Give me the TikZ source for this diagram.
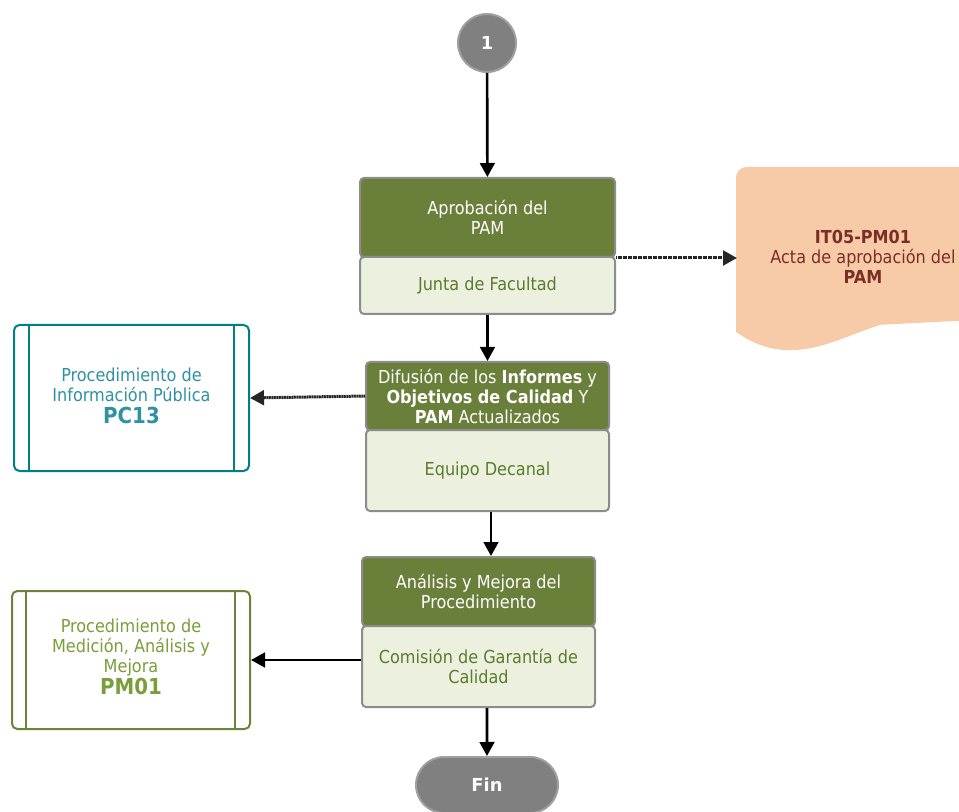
\documentclass[tikz,border=0pt]{standalone}
\usepackage{fontspec}
\setmainfont{DejaVu Sans Condensed}
\newfontfamily\widefont{DejaVu Sans}
\usetikzlibrary{arrows.meta, positioning, shapes.misc}
\definecolor{boxdark}{RGB}{106,127,58}
\definecolor{boxlight}{RGB}{235,240,223}
\definecolor{boxline}{RGB}{140,140,140}
\definecolor{boxtext}{RGB}{94,122,44}
\definecolor{docfill}{RGB}{248,203,168}
\definecolor{doctext}{RGB}{122,46,36}
\definecolor{pcline}{RGB}{0,128,128}
\definecolor{pctext}{RGB}{46,146,164}
\definecolor{pmline}{RGB}{107,132,58}
\definecolor{pmtext}{RGB}{122,158,58}
\definecolor{termfill}{RGB}{128,128,128}
\definecolor{termline}{RGB}{160,160,160}
\newcommand{\proccode}[1]{{\fontsize{16.5}{19}\selectfont\bfseries #1}}

\begin{document}
\begin{tikzpicture}[x=0.75pt, y=-0.75pt,
		every node/.style={font=\fontsize{13.4}{15}\selectfont, align=center, inner sep=0pt},
		actdark/.style={draw=boxline, line width=1.5pt, fill=boxdark, text=white, rounded corners=3pt},
		actlight/.style={draw=boxline, line width=1.5pt, fill=boxlight, text=boxtext, rounded corners=3pt},
		procbox/.style={line width=1.5pt, fill=white, rounded corners=4pt},
		terminal/.style={draw=termline, line width=1.5pt, fill=termfill, text=white, font=\fontsize{13.4}{15}\selectfont\widefont\bfseries},
		flow/.style={draw, line width=2pt, -{Triangle[length=10.5pt, width=11pt]}},
		docflow/.style={draw=black!85, line width=2.25pt, dash pattern=on 0.9pt off 0.35pt, -{Triangle[length=10.5pt, width=11pt]}}]
		\useasboundingbox (0,0) rectangle (959,812);
		\node[terminal, circle, minimum size=43.5pt] (c1) at (487,43) {1};
		\node[actdark, minimum width=191.25pt, minimum height=59.25pt] (a1top) at (487.5,217.5) {Aprobación del\\PAM};
		\node[actlight, minimum width=191.25pt, minimum height=42.75pt] (a1bot) at (487.5,285.5) {Junta de Facultad};
		\node[actdark, minimum width=182.25pt, minimum height=51pt] (a2top) at (487.5,396) {Difusión de los \textbf{Informes} y\\\textbf{Objetivos de Calidad} Y\\\textbf{PAM} Actualizados};
		\node[actlight, minimum width=182.25pt, minimum height=60.75pt] (a2bot) at (487.5,470.5) {Equipo Decanal};
		\node[actdark, minimum width=174.75pt, minimum height=51.75pt] (a3top) at (478.5,591.5) {Análisis y Mejora del\\Procedimiento};
		\node[actlight, minimum width=174.75pt, minimum height=60.75pt] (a3bot) at (478.5,666.5) {Comisión de Garantía de\\Calidad};
		\node[terminal, rounded rectangle, minimum width=106.5pt, minimum height=42pt] (fin) at (487,785) {Fin};
		\fill[docfill, rounded corners=8pt] (736,332) -- (736,167) -- (985,167) -- (985,320) -- (975,320);
		\fill[docfill] (736,320) -- (736,332) .. controls (755,345) and (772,351) .. (795,350) .. controls (835,348) and (870,322) .. (915,317) .. controls (940,315) and (960,320) .. (975,325) -- (975,318) -- cycle;
		\node[text=doctext] (doc) at (863,257) {\textbf{IT05-PM01}\\Acta de aprobación del\\\textbf{PAM}};
		\coordinate (docw) at (737,258);
		\node[procbox, draw=pcline, minimum width=176.25pt, minimum height=109.5pt] (pc) at (131.5,398) {};
		\draw[pcline, line width=1.5pt] (pc.north west) ++(12pt,0) -- ++(0,-109.5pt) (pc.north east) ++(-12pt,0) -- ++(0,-109.5pt);
		\node[text=pctext] at (131.5,396) {Procedimiento de\\Información Pública\\[2pt]\proccode{PC13}};
		\node[procbox, draw=pmline, minimum width=178.5pt, minimum height=103.5pt] (pm) at (131,660) {};
		\draw[pmline, line width=1.5pt] (pm.north west) ++(11.5pt,0) -- ++(0,-103.5pt) (pm.north east) ++(-12pt,0) -- ++(0,-103.5pt);
		\node[text=pmtext] at (131,657) {Procedimiento de\\Medición, Análisis y\\Mejora\\[1pt]\proccode{PM01}};
		\coordinate (m2) at (491,0);
		\draw[flow] (c1) -- (a1top);
		\draw[flow] (a1bot.south) -- (a2top.north);
		\draw[flow] (a2bot.south -| m2) -- (a3top.north -| m2);
		\draw[flow] (a3bot.south -| fin) -- (fin);
		\draw[flow] (pm.east -| a3bot.west) -- (pm.east);
		\draw[docflow] (a1top.south east) -- (docw);
		\draw[docflow] (a2top.west) -- (pc.east);
	\end{tikzpicture}
\end{document}
